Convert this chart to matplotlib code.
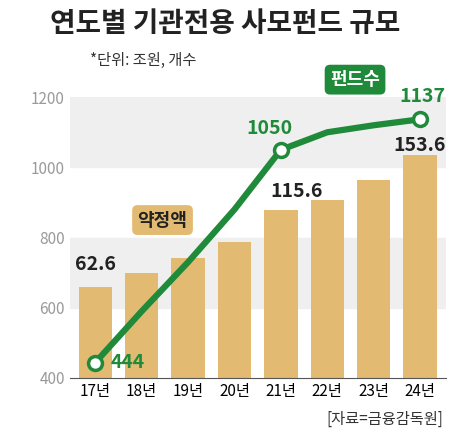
import matplotlib
matplotlib.use("Agg")
import matplotlib.pyplot as plt

plt.rcParams['font.family'] = ['Noto Sans CJK KR', 'DejaVu Sans']

years = ['17년', '18년', '19년', '20년', '21년', '22년', '23년', '24년']
commit = [62.6, 72.0, 82.6, 93.7, 115.6, 122.6, 136.0, 153.6]
funds = [444, 590, 730, 880, 1050, 1100, 1120, 1137]
yticks = [400, 600, 800, 1000, 1200]

fig = plt.figure(figsize=(4.5, 4.32), dpi=100)
ax = fig.add_axes([0.155, 0.125, 0.835, 0.65])
ax2 = ax.twinx()
ax.set_zorder(ax2.get_zorder() + 1)
ax.patch.set_visible(False)

x = range(len(years))
ax2.set_ylim(0, 193)
ax2.axhspan((1000 - 400) / 4.145, (1200 - 400) / 4.145, color='#efefef', zorder=0)
ax2.axhspan((600 - 400) / 4.145, (800 - 400) / 4.145, color='#efefef', zorder=0)
ax2.bar(x, commit, width=0.72, color='#e3ba72', zorder=2)
ax2.set_yticks([])
for s in ax2.spines.values():
    s.set_visible(False)

green = '#1f8a3a'
ax.plot(x, funds, color=green, lw=4.5, zorder=3)
for i in (0, 4, 7):
    ax.plot(i, funds[i], 'o', ms=10, mfc='white', mec=green, mew=2.5, zorder=4)
ax.set_ylim(400, 1200)
ax.set_xlim(-0.55, 7.55)
ax.set_yticks(yticks)
ax.set_yticklabels([str(v) for v in yticks], color='#9a9a9a', fontsize=11)
ax.set_xticks(list(x))
ax.set_xticklabels(years, fontsize=11)
ax.tick_params(length=0)
for s in ax.spines.values():
    s.set_visible(False)
ax.spines['bottom'].set_visible(True)
ax.spines['bottom'].set_color('#555555')

tk = dict(fontsize=14, fontweight='bold')
ax.text(0.7, 444, '444', color=green, va='center', ha='center', **tk)
ax.text(3.75, 1085, '1050', color=green, ha='center', va='bottom', **tk)
ax.text(7.05, 1175, '1137', color=green, ha='center', va='bottom', **tk)
ax.text(0.0, 695, '62.6', color='#222222', ha='center', va='bottom', **tk)
ax.text(4.35, 905, '115.6', color='#222222', ha='center', va='bottom', **tk)
ax.text(7.0, 1035, '153.6', color='#222222', ha='center', va='bottom', **tk)
ax.text(5.6, 1250, '펀드수', color='white', ha='center', va='center', fontsize=13, fontweight='bold',
        bbox=dict(boxstyle='round,pad=0.3', fc=green, ec='none'), clip_on=False)
ax.text(1.45, 850, '약정액', color='#222222', ha='center', va='center', fontsize=13, fontweight='bold',
        bbox=dict(boxstyle='round,pad=0.3', fc='#e3ba72', ec='none'))

fig.text(0.5, 0.945, '연도별 기관전용 사모펀드 규모', ha='center', va='center', fontsize=20, fontweight='bold', color='#222222')
fig.text(0.2, 0.86, '*단위: 조원, 개수', ha='left', va='center', fontsize=11, color='#333333')
fig.text(0.985, 0.03, '[자료=금융감독원]', ha='right', va='center', fontsize=11, color='#333333')
fig.savefig('out.png', dpi=100)
